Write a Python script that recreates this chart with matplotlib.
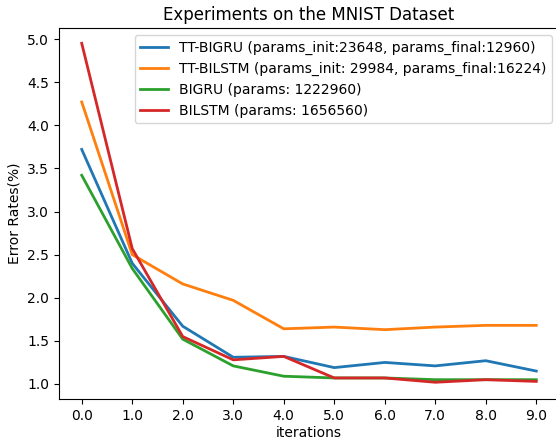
import matplotlib
matplotlib.use('Agg')
import matplotlib.pyplot as plt

iterations = [0, 1, 2, 3, 4, 5, 6, 7, 8, 9]
tt_bigru = [3.72, 2.40, 1.67, 1.31, 1.32, 1.19, 1.25, 1.21, 1.27, 1.15]
tt_bilstm = [4.27, 2.50, 2.16, 1.97, 1.64, 1.66, 1.63, 1.66, 1.68, 1.68]
bigru = [3.42, 2.34, 1.52, 1.21, 1.09, 1.07, 1.07, 1.05, 1.05, 1.05]
bilstm = [4.95, 2.57, 1.55, 1.28, 1.32, 1.07, 1.07, 1.02, 1.05, 1.03]

labels = ['TT-BIGRU (params_init:23648, params_final:12960)',
          'TT-BILSTM (params_init: 29984, params_final:16224)',
          'BIGRU (params: 1222960)',
          'BILSTM (params: 1656560)']

fig = plt.figure(figsize=(5.56, 4.4), dpi=100)
ax = fig.add_axes([59 / 556, 41 / 440, 500 / 556, 371 / 440])

ax.plot(iterations, tt_bigru, linewidth=2, color='#1f77b4', label=labels[0])
ax.plot(iterations, tt_bilstm, linewidth=2, color='#ff7f0e', label=labels[1])
ax.plot(iterations, bigru, linewidth=2, color='#2ca02c', label=labels[2])
ax.plot(iterations, bilstm, linewidth=2, color='#d62728', label=labels[3])

ax.set_xticks(iterations)
ax.set_xticklabels(['%.1f' % i for i in iterations])
ax.set_yticks([1.0, 1.5, 2.0, 2.5, 3.0, 3.5, 4.0, 4.5, 5.0])
ax.set_ylim(0.826, 5.128)
ax.tick_params(labelsize=10)

ax.set_title('Experiments on the MNIST Dataset', fontsize=12)
ax.set_xlabel('iterations', fontsize=10, labelpad=2)
ax.set_ylabel('Error Rates(%)', fontsize=10)
ax.legend(loc='upper right', fontsize=10)

fig.savefig('out.png', dpi=100)
